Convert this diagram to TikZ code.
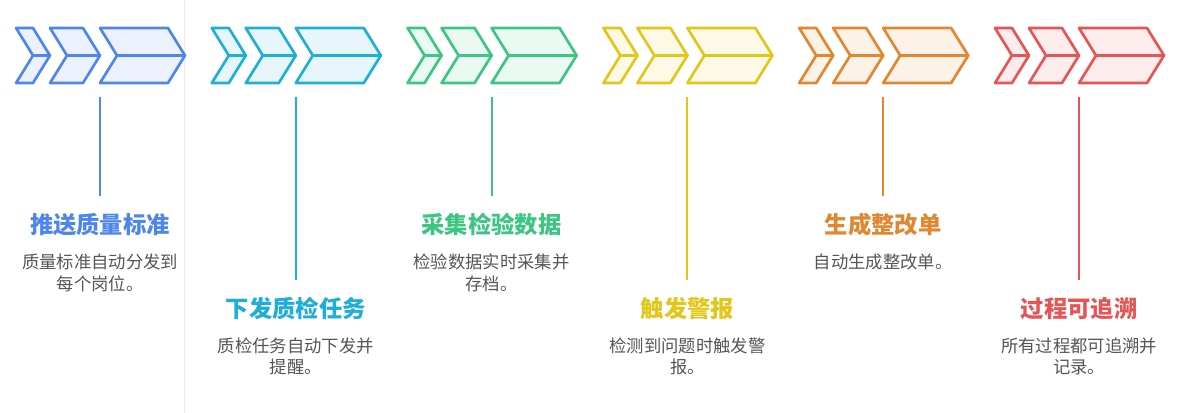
\documentclass[tikz,border=0pt]{standalone}
\usepackage{fontspec}
\newfontfamily\cjk{Noto Sans CJK SC}
\usepackage{tikz}
\usetikzlibrary{positioning}

\definecolor{stepblue}{HTML}{4F86EC}
\definecolor{stepcyan}{HTML}{1EAED8}
\definecolor{stepgreen}{HTML}{3CC583}
\definecolor{stepyellow}{HTML}{E2C619}
\definecolor{steporange}{HTML}{E0872F}
\definecolor{stepred}{HTML}{E55555}
\definecolor{descgrey}{HTML}{555555}
\definecolor{dividerpink}{HTML}{FBE1E6}

\tikzset{
	chev/.style={line width=2pt, line join=round},
	stem/.style={line width=1.5pt, shorten >=13pt},
	title/.style={font=\cjk\bfseries\fontsize{17.5pt}{20pt}\selectfont, inner sep=0pt},
	desc/.style={font=\cjk\fontsize{13pt}{16pt}\selectfont, text=descgrey, align=center, inner sep=0pt},
}

% one chevron = upper and lower half
\newcommand{\halfchev}[3]{%
	\draw[chev, draw=#3, fill=#3!11] (#1,28) -- ++(#2,0) -- ++(17,27.5) -- ++(-#2,0) -- cycle;
	\draw[chev, draw=#3, fill=#3!11] (#1+17,55.5) -- ++(#2,0) -- ++(-17,27.5) -- ++(-#2,0) -- cycle;
}
\newcommand{\chevset}[2]{%
	\halfchev{#1}{17}{#2}
	\halfchev{#1+34}{33}{#2}
	\halfchev{#1+84}{68}{#2}
}

\begin{document}
\begin{tikzpicture}[x=0.75pt, y=-0.75pt]
	\useasboundingbox (0,0) rectangle (1200,413);
	\draw[dividerpink, line width=0.75pt] (184,0) -- (184,413);

	\chevset{16}{stepblue}
	\chevset{211.8}{stepcyan}
	\chevset{407.6}{stepgreen}
	\chevset{603.4}{stepyellow}
	\chevset{799.2}{steporange}
	\chevset{995}{stepred}

	\coordinate (s1) at (100, 97);
	\coordinate (s2) at (295.8, 97);
	\coordinate (s3) at (491.6, 97);
	\coordinate (s4) at (687.4, 97);
	\coordinate (s5) at (883.2, 97);
	\coordinate (s6) at (1079, 97);

	\node[title, text=stepblue]   (t1) at (100, 225)    {推送质量标准};
	\node[title, text=stepcyan]   (t2) at (295.8, 308.5) {下发质检任务};
	\node[title, text=stepgreen]  (t3) at (491.6, 225)  {采集检验数据};
	\node[title, text=stepyellow] (t4) at (687.4, 308.5) {触发警报};
	\node[title, text=steporange] (t5) at (883.2, 225)  {生成整改单};
	\node[title, text=stepred]    (t6) at (1079, 308.5) {过程可追溯};

	\node[desc, below=13pt of t1] (d1) {质量标准自动分发到\\每个岗位。};
	\node[desc, below=13pt of t2] (d2) {质检任务自动下发并\\提醒。};
	\node[desc, below=13pt of t3] (d3) {检验数据实时采集并\\存档。};
	\node[desc, below=13pt of t4] (d4) {检测到问题时触发警\\报。};
	\node[desc, below=13pt of t5] (d5) {自动生成整改单。};
	\node[desc, below=13pt of t6] (d6) {所有过程都可追溯并\\记录。};

	\path[stem, draw=stepblue]   (s1) edge (t1);
	\path[stem, draw=stepcyan]   (s2) edge (t2);
	\path[stem, draw=stepgreen]  (s3) edge (t3);
	\path[stem, draw=stepyellow] (s4) edge (t4);
	\path[stem, draw=steporange] (s5) edge (t5);
	\path[stem, draw=stepred]    (s6) edge (t6);
\end{tikzpicture}
\end{document}
